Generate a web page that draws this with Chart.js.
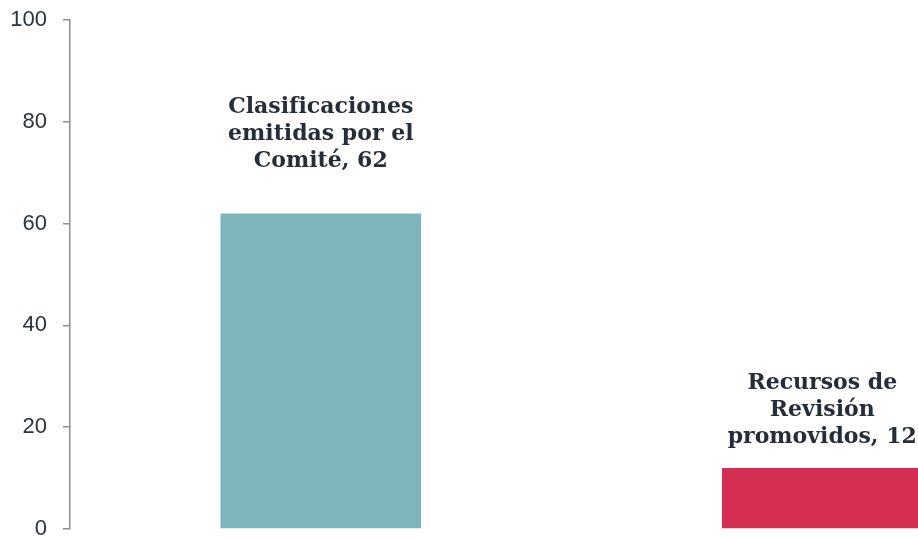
<!DOCTYPE html>
<html lang="es">
<head>
<meta charset="UTF-8">
<title>Clasificaciones y recursos</title>
<script src="https://cdn.jsdelivr.net/npm/chart.js"></script>
<style>
  body { margin: 0; overflow: hidden; background: #fff; }
  #caja { width: 1080px; height: 538px; }
</style>
</head>
<body>
<div id="caja"><canvas id="grafico"></canvas></div>
<script>
const categorias = ['Clasificaciones emitidas por el Comité', 'Recursos de Revisión promovidos'];
const valores = [62, 12];
const etiquetas = [
  ['Clasificaciones', 'emitidas por el', 'Comité, 62'],
  ['Recursos de', 'Revisión', 'promovidos, 12']
];
const colores = ['#7EB5BD', '#D42F52'];

// etiquetas encima de cada barra
const etiquetasBarras = {
  id: 'etiquetasBarras',
  afterDatasetsDraw(chart, args, opts) {
    const ctx = chart.ctx;
    const barras = chart.getDatasetMeta(0).data;
    ctx.save();
    ctx.font = 'bold 22px "DejaVu Serif"';
    ctx.fillStyle = '#262D3A';
    ctx.textAlign = 'center';
    ctx.textBaseline = 'middle';
    barras.forEach(function (barra, i) {
      const lineas = etiquetas[i];
      const base = barra.y - opts.separacion[i];
      lineas.forEach(function (linea, j) {
        ctx.fillText(linea, barra.x, base - (lineas.length - 1 - j) * 27);
      });
    });
    ctx.restore();
  }
};

new Chart(document.getElementById('grafico'), {
  type: 'bar',
  data: {
    labels: categorias,
    datasets: [{
      data: valores,
      backgroundColor: colores,
      barPercentage: 0.4,
      categoryPercentage: 1
    }]
  },
  options: {
    responsive: true,
    maintainAspectRatio: false,
    animation: false,
    layout: { padding: { top: 20, bottom: 9, right: 7, left: 0 } },
    scales: {
      x: { display: false },
      y: {
        min: 0,
        max: 100,
        afterFit: function (scale) {
          scale.width = 70;
          scale.paddingTop = 0;
          scale.paddingBottom = 0;
        },
        ticks: {
          stepSize: 20,
          padding: 16,
          color: '#2B3340',
          font: { family: "'Liberation Sans', Arial, sans-serif", size: 22 }
        },
        grid: { drawOnChartArea: false, tickLength: 7, color: '#8C8F94', lineWidth: 1.5 },
        border: { color: '#8C8F94', width: 1.5 }
      }
    },
    plugins: {
      legend: { display: false },
      tooltip: { enabled: false },
      etiquetasBarras: { separacion: [52, 31] }
    }
  },
  plugins: [etiquetasBarras]
});
</script>
</body>
</html>
